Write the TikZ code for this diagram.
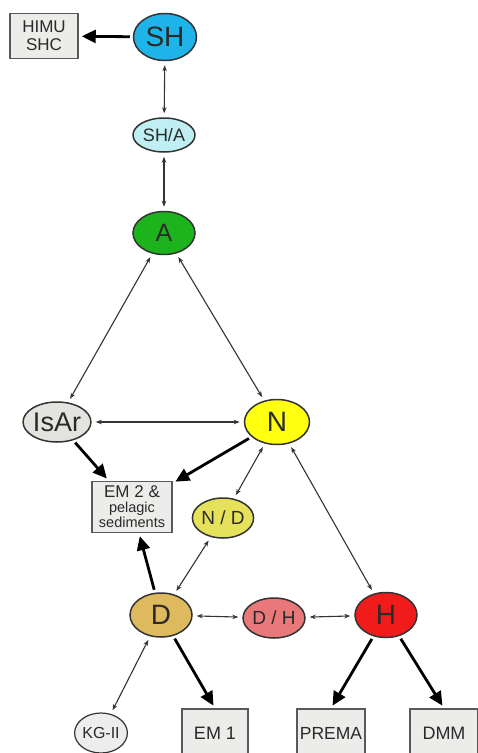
\documentclass[tikz,border=0pt]{standalone}
\usepackage{fontspec}
\setmainfont{Liberation Sans}
\usetikzlibrary{shapes.geometric,arrows.meta}
\definecolor{cSH}{HTML}{1EB4EA}
\definecolor{cSHA}{HTML}{BFEFF3}
\definecolor{cA}{HTML}{1DB31D}
\definecolor{cIsAr}{HTML}{E3E3E0}
\definecolor{cN}{HTML}{FFFF10}
\definecolor{cND}{HTML}{E6E15A}
\definecolor{cD}{HTML}{DDBA5E}
\definecolor{cDH}{HTML}{E8787A}
\definecolor{cH}{HTML}{F01C1C}
\definecolor{cKG}{HTML}{EDEDED}
\definecolor{cBox}{HTML}{ECECEA}
\definecolor{cLine}{HTML}{333333}
\definecolor{cTxt}{HTML}{2A2A2A}
\tikzset{
  res/.style={ellipse, draw=cLine, line width=1.5pt, inner sep=0pt, text=cTxt,
              minimum width=62pt, minimum height=44pt},
  endbox/.style={rectangle, draw=black!65, line width=1.5pt, fill=cBox, inner sep=0pt,
              text=cTxt, align=center},
  twoway/.style={{Stealth[length=6pt,width=4.5pt]}-{Stealth[length=6pt,width=4.5pt]},
              draw=cLine, line width=1.1pt, shorten <=4pt, shorten >=4pt},
  oneway/.style={-{Triangle[length=14pt,width=13pt]}, draw=black, line width=2.8pt,
              shorten <=3pt, shorten >=3pt},
}
\newcommand{\fsz}[1]{\fontsize{#1}{#1}\selectfont}
\begin{document}
\begin{tikzpicture}[x=1pt,y=-1pt]
\useasboundingbox (0,0) rectangle (478,753);
\fill[white] (0,0) rectangle (478,753);
% nodes
\node[endbox, minimum width=68pt, minimum height=45pt, font=\fontsize{17}{18}\selectfont] (HIMU) at (44,36)
  {HIMU\\SHC};
\node[res, fill=cSH, minimum width=63pt, minimum height=47pt] (SH) at (165,37) {\fsz{28}SH};
\node[res, fill=cSHA, minimum width=62pt, minimum height=34pt] (SHA) at (164,135) {\fsz{18}SH/A};
\node[res, fill=cA, minimum width=62pt, minimum height=43pt] (A) at (164,233) {\fsz{25}A};
\node[res, fill=cIsAr, minimum width=62pt, minimum height=40pt] (IsAr) at (57,422) {\fsz{27}IsAr};
\node[res, fill=cN, minimum width=65pt, minimum height=45pt] (N) at (277,422) {\fsz{28}N};
\node[endbox, minimum width=80pt, minimum height=51pt, font=\fontsize{14.5}{15}\selectfont] (EM2) at (132,507)
  {{\fontsize{17}{17}\selectfont EM 2 \&}\\pelagic\\sediments};
\node[res, fill=cND, minimum width=60pt, minimum height=40pt] (ND) at (223,518) {\fsz{19}N / D};
\node[res, fill=cD, minimum width=62pt, minimum height=44pt] (D) at (161,615) {\fsz{28}D};
\node[res, fill=cDH, minimum width=62pt, minimum height=40pt] (DH) at (274,618) {\fsz{19}D / H};
\node[res, fill=cH, minimum width=62pt, minimum height=45pt] (H) at (386,615) {\fsz{28}H};
\node[res, fill=cKG, line width=1.2pt, minimum width=46pt, minimum height=40pt] (KG) at (101,733) {\fsz{16}KG-II};
\node[endbox, minimum width=66pt, minimum height=48pt] (EM1) at (215,733) {\fsz{18}EM 1};
\node[endbox, minimum width=68pt, minimum height=48pt] (PREMA) at (331,733) {\fsz{17.5}PREMA};
\node[endbox, minimum width=68pt, minimum height=48pt] (DMM) at (444,733) {\fsz{18}DMM};
% connectors
\draw[oneway] (SH) -- (HIMU);
\draw[twoway] (SH) -- (SHA);
\draw[twoway] (SHA) -- (A);
\draw[twoway] (A) -- (IsAr);
\draw[twoway] (A) -- (N);
\draw[twoway] (IsAr) -- (N);
\draw[oneway] (IsAr) -- (EM2);
\draw[oneway] (N) -- (EM2);
\draw[twoway] (N) -- (ND);
\draw[twoway] (ND) -- (D);
\draw[twoway] (N) -- (H);
\draw[oneway] (D) -- (EM2);
\draw[twoway] (D) -- (DH);
\draw[twoway] (DH) -- (H);
\draw[twoway] (D) -- (KG);
\draw[oneway] (D) -- (EM1.north);
\draw[oneway] (H) -- (PREMA.north);
\draw[oneway] (H) -- (DMM.north);
\end{tikzpicture}
\end{document}
